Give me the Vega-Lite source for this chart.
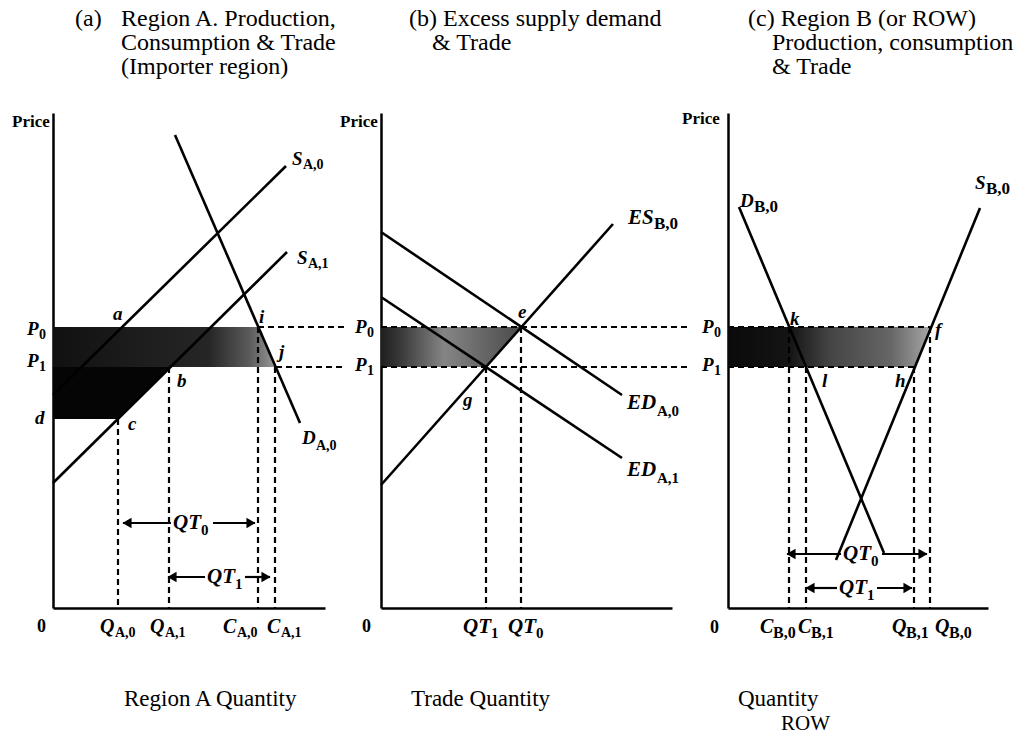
{
  "$schema": "https://vega.github.io/schema/vega-lite/v6.json",
  "autosize": {"type": "none"},
  "padding": {"left": 53, "top": 113, "right": 976, "bottom": 625},
  "background": "white",
  "spacing": 56,
  "bounds": "flush",
  "config": {
    "view": {"stroke": null},
    "axis": {"domainWidth": 2.5, "domainColor": "black", "ticks": false, "labels": false, "grid": false}
  },
  "datasets": {
    "seg": [
      {"panel": "a", "s": "solid", "q": 0, "p": 213, "q2": 233, "p2": 442},
      {"panel": "a", "s": "solid", "q": 0, "p": 125, "q2": 234, "p2": 356},
      {"panel": "a", "s": "solid", "q": 122, "p": 473, "q2": 247, "p2": 185},
      {"panel": "a", "s": "dash", "q": 205, "p": 281, "q2": 293, "p2": 281},
      {"panel": "a", "s": "dash", "q": 223, "p": 241, "q2": 293, "p2": 241},
      {"panel": "a", "s": "dash", "q": 65, "p": 189, "q2": 65, "p2": 0},
      {"panel": "a", "s": "dash", "q": 116, "p": 241, "q2": 116, "p2": 0},
      {"panel": "a", "s": "dash", "q": 205, "p": 281, "q2": 205, "p2": 0},
      {"panel": "a", "s": "dash", "q": 222, "p": 241, "q2": 222, "p2": 0},
      {"panel": "a", "s": "arr", "q": 70, "p": 85, "q2": 118, "p2": 85},
      {"panel": "a", "s": "arr", "q": 160, "p": 85, "q2": 202, "p2": 85},
      {"panel": "a", "s": "arr", "q": 115, "p": 31, "q2": 152, "p2": 31},
      {"panel": "a", "s": "arr", "q": 192, "p": 31, "q2": 217, "p2": 31},
      {"panel": "b", "s": "solid", "q": 0, "p": 123, "q2": 232, "p2": 384},
      {"panel": "b", "s": "solid", "q": 0, "p": 376, "q2": 241, "p2": 213},
      {"panel": "b", "s": "solid", "q": 0, "p": 311, "q2": 241, "p2": 150},
      {"panel": "b", "s": "dash", "q": 0, "p": 281, "q2": 306, "p2": 281},
      {"panel": "b", "s": "dash", "q": 0, "p": 241, "q2": 306, "p2": 241},
      {"panel": "b", "s": "dash", "q": 105, "p": 241, "q2": 105, "p2": 0},
      {"panel": "b", "s": "dash", "q": 140, "p": 281, "q2": 140, "p2": 0},
      {"panel": "c", "s": "solid", "q": 11, "p": 401, "q2": 156, "p2": 55},
      {"panel": "c", "s": "solid", "q": 252, "p": 400, "q2": 108, "p2": 48},
      {"panel": "c", "s": "dash", "q": 0, "p": 281, "q2": 203, "p2": 281},
      {"panel": "c", "s": "dash", "q": 0, "p": 241, "q2": 187, "p2": 241},
      {"panel": "c", "s": "dash", "q": 61, "p": 281, "q2": 61, "p2": 0},
      {"panel": "c", "s": "dash", "q": 78, "p": 241, "q2": 78, "p2": 0},
      {"panel": "c", "s": "dash", "q": 186, "p": 241, "q2": 186, "p2": 0},
      {"panel": "c", "s": "dash", "q": 202, "p": 281, "q2": 202, "p2": 0},
      {"panel": "c", "s": "arr", "q": 59, "p": 54, "q2": 113, "p2": 54},
      {"panel": "c", "s": "arr", "q": 154, "p": 54, "q2": 199, "p2": 54},
      {"panel": "c", "s": "arr", "q": 78, "p": 20, "q2": 109, "p2": 20},
      {"panel": "c", "s": "arr", "q": 149, "p": 20, "q2": 184, "p2": 20}
    ],
    "heads": [
      {"panel": "a", "q": 74, "p": 85, "sh": "triangle-left"},
      {"panel": "a", "q": 198, "p": 85, "sh": "triangle-right"},
      {"panel": "a", "q": 119, "p": 31, "sh": "triangle-left"},
      {"panel": "a", "q": 213, "p": 31, "sh": "triangle-right"},
      {"panel": "c", "q": 63, "p": 54, "sh": "triangle-left"},
      {"panel": "c", "q": 195, "p": 54, "sh": "triangle-right"},
      {"panel": "c", "q": 82, "p": 20, "sh": "triangle-left"},
      {"panel": "c", "q": 180, "p": 20, "sh": "triangle-right"}
    ],
    "band": [
      {"panel": "a", "b": "g", "p": 241, "lo": 0, "hi": 222.7},
      {"panel": "a", "b": "g", "p": 281, "lo": 0, "hi": 205.3},
      {"panel": "a", "b": "k", "p": 189, "lo": 0, "hi": 64.8},
      {"panel": "a", "b": "k", "p": 241, "lo": 0, "hi": 117.5},
      {"panel": "b", "b": "g", "p": 241, "lo": 0, "hi": 104.9},
      {"panel": "b", "b": "g", "p": 281, "lo": 0, "hi": 140.4},
      {"panel": "c", "b": "g", "p": 241, "lo": 0, "hi": 187},
      {"panel": "c", "b": "g", "p": 281, "lo": 0, "hi": 203.3}
    ],
    "txt": [
      {"panel": "a", "st": "ib", "t": "P", "q": -26, "p": 279, "sz": 19},
      {"panel": "a", "st": "ib", "t": "P", "q": -26, "p": 247, "sz": 19},
      {"panel": "a", "st": "ib", "t": "d", "q": -18, "p": 190, "sz": 19},
      {"panel": "a", "st": "ib", "t": "a", "q": 60, "p": 294, "sz": 19},
      {"panel": "a", "st": "ib", "t": "b", "q": 124, "p": 227, "sz": 19},
      {"panel": "a", "st": "ib", "t": "c", "q": 75, "p": 184, "sz": 19},
      {"panel": "a", "st": "ib", "t": "i", "q": 206, "p": 291, "sz": 19},
      {"panel": "a", "st": "ib", "t": "j", "q": 226, "p": 256, "sz": 19},
      {"panel": "a", "st": "ib", "t": "S", "q": 239, "p": 449, "sz": 19},
      {"panel": "a", "st": "ib", "t": "S", "q": 244, "p": 350, "sz": 19},
      {"panel": "a", "st": "ib", "t": "D", "q": 249, "p": 170, "sz": 19},
      {"panel": "a", "st": "ib", "t": "Q", "q": 47, "p": -19, "sz": 20},
      {"panel": "a", "st": "ib", "t": "Q", "q": 97, "p": -19, "sz": 20},
      {"panel": "a", "st": "ib", "t": "C", "q": 170, "p": -19, "sz": 20},
      {"panel": "a", "st": "ib", "t": "C", "q": 214, "p": -19, "sz": 20},
      {"panel": "a", "st": "ib", "t": "QT", "q": 120, "p": 85, "sz": 21},
      {"panel": "a", "st": "ib", "t": "QT", "q": 154, "p": 31, "sz": 21},
      {"panel": "a", "st": "b", "t": "0", "q": -14, "p": 273, "sz": 14},
      {"panel": "a", "st": "b", "t": "1", "q": -14, "p": 241, "sz": 14},
      {"panel": "a", "st": "b", "t": "A,0", "q": 250, "p": 443, "sz": 14},
      {"panel": "a", "st": "b", "t": "A,1", "q": 255, "p": 344, "sz": 14},
      {"panel": "a", "st": "b", "t": "A,0", "q": 263, "p": 162, "sz": 14},
      {"panel": "a", "st": "b", "t": "A,0", "q": 62, "p": -25, "sz": 14},
      {"panel": "a", "st": "b", "t": "A,1", "q": 112, "p": -25, "sz": 14},
      {"panel": "a", "st": "b", "t": "A,0", "q": 184, "p": -25, "sz": 14},
      {"panel": "a", "st": "b", "t": "A,1", "q": 228, "p": -25, "sz": 14},
      {"panel": "a", "st": "b", "t": "0", "q": 148, "p": 78, "sz": 15},
      {"panel": "a", "st": "b", "t": "1", "q": 182, "p": 24, "sz": 15},
      {"panel": "a", "st": "b", "t": "0", "q": -16, "p": -19, "sz": 18},
      {"panel": "a", "st": "b", "t": "Price", "q": -41, "p": 486, "sz": 17},
      {"panel": "a", "st": "rg", "t": "(a)", "q": 22, "p": 582, "sz": 24},
      {"panel": "a", "st": "rg", "t": "Region A. Production,", "q": 68, "p": 582, "sz": 24},
      {"panel": "a", "st": "rg", "t": "Consumption & Trade", "q": 68, "p": 558, "sz": 24},
      {"panel": "a", "st": "rg", "t": "(Importer region)", "q": 68, "p": 534, "sz": 24},
      {"panel": "a", "st": "rg", "t": "Region A Quantity", "q": 71, "p": -98, "sz": 23},
      {"panel": "b", "st": "ib", "t": "P", "q": -26, "p": 281, "sz": 19},
      {"panel": "b", "st": "ib", "t": "P", "q": -26, "p": 243, "sz": 19},
      {"panel": "b", "st": "ib", "t": "e", "q": 137, "p": 296, "sz": 19},
      {"panel": "b", "st": "ib", "t": "g", "q": 82, "p": 208, "sz": 19},
      {"panel": "b", "st": "ib", "t": "ES", "q": 247, "p": 390, "sz": 21},
      {"panel": "b", "st": "ib", "t": "ED", "q": 246, "p": 205, "sz": 21},
      {"panel": "b", "st": "ib", "t": "ED", "q": 246, "p": 138, "sz": 21},
      {"panel": "b", "st": "ib", "t": "QT", "q": 82, "p": -19, "sz": 21},
      {"panel": "b", "st": "ib", "t": "QT", "q": 127, "p": -19, "sz": 21},
      {"panel": "b", "st": "b", "t": "0", "q": -14, "p": 275, "sz": 14},
      {"panel": "b", "st": "b", "t": "1", "q": -14, "p": 237, "sz": 14},
      {"panel": "b", "st": "b", "t": "B,0", "q": 273, "p": 384, "sz": 17},
      {"panel": "b", "st": "b", "t": "A,0", "q": 276, "p": 197, "sz": 15},
      {"panel": "b", "st": "b", "t": "A,1", "q": 276, "p": 130, "sz": 15},
      {"panel": "b", "st": "b", "t": "1", "q": 110, "p": -25, "sz": 15},
      {"panel": "b", "st": "b", "t": "0", "q": 155, "p": -25, "sz": 15},
      {"panel": "b", "st": "b", "t": "0", "q": -19, "p": -19, "sz": 18},
      {"panel": "b", "st": "b", "t": "Price", "q": -41, "p": 486, "sz": 17},
      {"panel": "b", "st": "rg", "t": "(b) Excess supply demand", "q": 28, "p": 582, "sz": 24},
      {"panel": "b", "st": "rg", "t": "& Trade", "q": 51, "p": 558, "sz": 24},
      {"panel": "b", "st": "rg", "t": "Trade Quantity", "q": 30, "p": -98, "sz": 23},
      {"panel": "c", "st": "ib", "t": "P", "q": -26, "p": 281, "sz": 19},
      {"panel": "c", "st": "ib", "t": "P", "q": -26, "p": 243, "sz": 19},
      {"panel": "c", "st": "ib", "t": "D", "q": 12, "p": 407, "sz": 19},
      {"panel": "c", "st": "ib", "t": "S", "q": 247, "p": 425, "sz": 19},
      {"panel": "c", "st": "ib", "t": "k", "q": 62, "p": 289, "sz": 19},
      {"panel": "c", "st": "ib", "t": "f", "q": 207, "p": 278, "sz": 19},
      {"panel": "c", "st": "ib", "t": "l", "q": 94, "p": 227, "sz": 19},
      {"panel": "c", "st": "ib", "t": "h", "q": 167, "p": 227, "sz": 19},
      {"panel": "c", "st": "ib", "t": "C", "q": 32, "p": -19, "sz": 20},
      {"panel": "c", "st": "ib", "t": "C", "q": 70, "p": -19, "sz": 20},
      {"panel": "c", "st": "ib", "t": "Q", "q": 164, "p": -19, "sz": 20},
      {"panel": "c", "st": "ib", "t": "Q", "q": 207, "p": -19, "sz": 20},
      {"panel": "c", "st": "ib", "t": "QT", "q": 115, "p": 54, "sz": 21},
      {"panel": "c", "st": "ib", "t": "QT", "q": 111, "p": 20, "sz": 21},
      {"panel": "c", "st": "b", "t": "0", "q": -14, "p": 275, "sz": 14},
      {"panel": "c", "st": "b", "t": "1", "q": -14, "p": 237, "sz": 14},
      {"panel": "c", "st": "b", "t": "B,0", "q": 26, "p": 401, "sz": 17},
      {"panel": "c", "st": "b", "t": "B,0", "q": 258, "p": 419, "sz": 17},
      {"panel": "c", "st": "b", "t": "B,0", "q": 45, "p": -25, "sz": 16},
      {"panel": "c", "st": "b", "t": "B,1", "q": 83, "p": -25, "sz": 16},
      {"panel": "c", "st": "b", "t": "B,1", "q": 178, "p": -25, "sz": 16},
      {"panel": "c", "st": "b", "t": "B,0", "q": 221, "p": -25, "sz": 16},
      {"panel": "c", "st": "b", "t": "0", "q": 143, "p": 47, "sz": 15},
      {"panel": "c", "st": "b", "t": "1", "q": 139, "p": 13, "sz": 15},
      {"panel": "c", "st": "b", "t": "0", "q": -18, "p": -20, "sz": 18},
      {"panel": "c", "st": "b", "t": "Price", "q": -46, "p": 489, "sz": 17},
      {"panel": "c", "st": "rg", "t": "(c) Region B (or ROW)", "q": 20, "p": 582, "sz": 24},
      {"panel": "c", "st": "rg", "t": "Production, consumption", "q": 44, "p": 558, "sz": 24},
      {"panel": "c", "st": "rg", "t": "& Trade", "q": 44, "p": 534, "sz": 24},
      {"panel": "c", "st": "rg", "t": "Quantity", "q": 10, "p": -98, "sz": 23},
      {"panel": "c", "st": "rg", "t": "ROW", "q": 53, "p": -122, "sz": 21}
    ]
  },
  "hconcat": [
    {
      "width": 272, "height": 495,
      "layer": [
        {"data": {"name": "band"}, "transform": [{"filter": "datum.panel === 'a' && datum.b === 'g'"}],
         "mark": {"type": "area", "orient": "horizontal", "color": {"gradient": "linear", "x1": 0, "y1": 0, "x2": 1, "y2": 0, "stops": [{"offset": 0, "color": "#111111"}, {"offset": 0.7, "color": "#262626"}, {"offset": 0.88, "color": "#5a5a5a"}, {"offset": 1, "color": "#9a9a9a"}]}},
         "encoding": {"y": {"field": "p", "type": "quantitative", "scale": {"domain": [0, 495], "nice": false, "zero": false}, "title": null},
                      "x": {"field": "lo", "type": "quantitative", "scale": {"domain": [0, 272], "nice": false, "zero": false}, "title": null},
                      "x2": {"field": "hi"}}},
        {"data": {"name": "band"}, "transform": [{"filter": "datum.panel === 'a' && datum.b === 'k'"}],
         "mark": {"type": "area", "orient": "horizontal", "color": "#050505"},
         "encoding": {"y": {"field": "p", "type": "quantitative", "title": null},
                      "x": {"field": "lo", "type": "quantitative", "title": null},
                      "x2": {"field": "hi"}}},
        {"data": {"name": "seg"}, "transform": [{"filter": "datum.panel === 'a' && datum.s === 'solid'"}],
         "mark": {"type": "rule", "color": "black", "strokeWidth": 2.6},
         "encoding": {"x": {"field": "q", "type": "quantitative", "title": null}, "y": {"field": "p", "type": "quantitative", "title": null}, "x2": {"field": "q2"}, "y2": {"field": "p2"}}},
        {"data": {"name": "seg"}, "transform": [{"filter": "datum.panel === 'a' && datum.s === 'dash'"}],
         "mark": {"type": "rule", "color": "black", "strokeWidth": 2.2, "strokeDash": [6, 4]},
         "encoding": {"x": {"field": "q", "type": "quantitative", "title": null}, "y": {"field": "p", "type": "quantitative", "title": null}, "x2": {"field": "q2"}, "y2": {"field": "p2"}}},
        {"data": {"name": "seg"}, "transform": [{"filter": "datum.panel === 'a' && datum.s === 'arr'"}],
         "mark": {"type": "rule", "color": "black", "strokeWidth": 2.2},
         "encoding": {"x": {"field": "q", "type": "quantitative", "title": null}, "y": {"field": "p", "type": "quantitative", "title": null}, "x2": {"field": "q2"}, "y2": {"field": "p2"}}},
        {"data": {"name": "heads"}, "transform": [{"filter": "datum.panel === 'a'"}],
         "mark": {"type": "point", "filled": true, "color": "black", "opacity": 1, "size": 110},
         "encoding": {"x": {"field": "q", "type": "quantitative", "title": null}, "y": {"field": "p", "type": "quantitative", "title": null}, "shape": {"field": "sh", "type": "nominal", "scale": null}}},
        {"data": {"name": "txt"}, "transform": [{"filter": "datum.panel === 'a' && datum.st === 'ib'"}],
         "mark": {"type": "text", "font": "Liberation Serif", "fontStyle": "italic", "fontWeight": "bold", "align": "left", "baseline": "middle", "color": "black"},
         "encoding": {"x": {"field": "q", "type": "quantitative", "title": null}, "y": {"field": "p", "type": "quantitative", "title": null}, "text": {"field": "t"}, "size": {"field": "sz", "type": "quantitative", "scale": null}}},
        {"data": {"name": "txt"}, "transform": [{"filter": "datum.panel === 'a' && datum.st === 'b'"}],
         "mark": {"type": "text", "font": "Liberation Serif", "fontWeight": "bold", "align": "left", "baseline": "middle", "color": "black"},
         "encoding": {"x": {"field": "q", "type": "quantitative", "title": null}, "y": {"field": "p", "type": "quantitative", "title": null}, "text": {"field": "t"}, "size": {"field": "sz", "type": "quantitative", "scale": null}}},
        {"data": {"name": "txt"}, "transform": [{"filter": "datum.panel === 'a' && datum.st === 'rg'"}],
         "mark": {"type": "text", "font": "Liberation Serif", "align": "left", "baseline": "alphabetic", "color": "black"},
         "encoding": {"x": {"field": "q", "type": "quantitative", "title": null}, "y": {"field": "p", "type": "quantitative", "title": null}, "text": {"field": "t"}, "size": {"field": "sz", "type": "quantitative", "scale": null}}}
      ]
    },
    {
      "width": 291, "height": 495,
      "layer": [
        {"data": {"name": "band"}, "transform": [{"filter": "datum.panel === 'b'"}],
         "mark": {"type": "area", "orient": "horizontal", "color": {"gradient": "linear", "x1": 0, "y1": 0, "x2": 1, "y2": 0, "stops": [{"offset": 0, "color": "#1e1e1e"}, {"offset": 0.15, "color": "#3c3c3c"}, {"offset": 0.45, "color": "#858585"}, {"offset": 0.7, "color": "#6a6a6a"}, {"offset": 1, "color": "#4a4a4a"}]}},
         "encoding": {"y": {"field": "p", "type": "quantitative", "scale": {"domain": [0, 495], "nice": false, "zero": false}, "title": null},
                      "x": {"field": "lo", "type": "quantitative", "scale": {"domain": [0, 291], "nice": false, "zero": false}, "title": null},
                      "x2": {"field": "hi"}}},
        {"data": {"name": "seg"}, "transform": [{"filter": "datum.panel === 'b' && datum.s === 'solid'"}],
         "mark": {"type": "rule", "color": "black", "strokeWidth": 2.6},
         "encoding": {"x": {"field": "q", "type": "quantitative", "title": null}, "y": {"field": "p", "type": "quantitative", "title": null}, "x2": {"field": "q2"}, "y2": {"field": "p2"}}},
        {"data": {"name": "seg"}, "transform": [{"filter": "datum.panel === 'b' && datum.s === 'dash'"}],
         "mark": {"type": "rule", "color": "black", "strokeWidth": 2.2, "strokeDash": [6, 4]},
         "encoding": {"x": {"field": "q", "type": "quantitative", "title": null}, "y": {"field": "p", "type": "quantitative", "title": null}, "x2": {"field": "q2"}, "y2": {"field": "p2"}}},
        {"data": {"name": "txt"}, "transform": [{"filter": "datum.panel === 'b' && datum.st === 'ib'"}],
         "mark": {"type": "text", "font": "Liberation Serif", "fontStyle": "italic", "fontWeight": "bold", "align": "left", "baseline": "middle", "color": "black"},
         "encoding": {"x": {"field": "q", "type": "quantitative", "title": null}, "y": {"field": "p", "type": "quantitative", "title": null}, "text": {"field": "t"}, "size": {"field": "sz", "type": "quantitative", "scale": null}}},
        {"data": {"name": "txt"}, "transform": [{"filter": "datum.panel === 'b' && datum.st === 'b'"}],
         "mark": {"type": "text", "font": "Liberation Serif", "fontWeight": "bold", "align": "left", "baseline": "middle", "color": "black"},
         "encoding": {"x": {"field": "q", "type": "quantitative", "title": null}, "y": {"field": "p", "type": "quantitative", "title": null}, "text": {"field": "t"}, "size": {"field": "sz", "type": "quantitative", "scale": null}}},
        {"data": {"name": "txt"}, "transform": [{"filter": "datum.panel === 'b' && datum.st === 'rg'"}],
         "mark": {"type": "text", "font": "Liberation Serif", "align": "left", "baseline": "alphabetic", "color": "black"},
         "encoding": {"x": {"field": "q", "type": "quantitative", "title": null}, "y": {"field": "p", "type": "quantitative", "title": null}, "text": {"field": "t"}, "size": {"field": "sz", "type": "quantitative", "scale": null}}}
      ]
    },
    {
      "width": 260, "height": 495,
      "layer": [
        {"data": {"name": "band"}, "transform": [{"filter": "datum.panel === 'c'"}],
         "mark": {"type": "area", "orient": "horizontal", "color": {"gradient": "linear", "x1": 0, "y1": 0, "x2": 1, "y2": 0, "stops": [{"offset": 0, "color": "#0a0a0a"}, {"offset": 0.3, "color": "#141414"}, {"offset": 0.5, "color": "#444444"}, {"offset": 0.8, "color": "#666666"}, {"offset": 1, "color": "#a8a8a8"}]}},
         "encoding": {"y": {"field": "p", "type": "quantitative", "scale": {"domain": [0, 495], "nice": false, "zero": false}, "title": null},
                      "x": {"field": "lo", "type": "quantitative", "scale": {"domain": [0, 260], "nice": false, "zero": false}, "title": null},
                      "x2": {"field": "hi"}}},
        {"data": {"name": "seg"}, "transform": [{"filter": "datum.panel === 'c' && datum.s === 'solid'"}],
         "mark": {"type": "rule", "color": "black", "strokeWidth": 2.6},
         "encoding": {"x": {"field": "q", "type": "quantitative", "title": null}, "y": {"field": "p", "type": "quantitative", "title": null}, "x2": {"field": "q2"}, "y2": {"field": "p2"}}},
        {"data": {"name": "seg"}, "transform": [{"filter": "datum.panel === 'c' && datum.s === 'dash'"}],
         "mark": {"type": "rule", "color": "black", "strokeWidth": 2.2, "strokeDash": [6, 4]},
         "encoding": {"x": {"field": "q", "type": "quantitative", "title": null}, "y": {"field": "p", "type": "quantitative", "title": null}, "x2": {"field": "q2"}, "y2": {"field": "p2"}}},
        {"data": {"name": "seg"}, "transform": [{"filter": "datum.panel === 'c' && datum.s === 'arr'"}],
         "mark": {"type": "rule", "color": "black", "strokeWidth": 2.2},
         "encoding": {"x": {"field": "q", "type": "quantitative", "title": null}, "y": {"field": "p", "type": "quantitative", "title": null}, "x2": {"field": "q2"}, "y2": {"field": "p2"}}},
        {"data": {"name": "heads"}, "transform": [{"filter": "datum.panel === 'c'"}],
         "mark": {"type": "point", "filled": true, "color": "black", "opacity": 1, "size": 110},
         "encoding": {"x": {"field": "q", "type": "quantitative", "title": null}, "y": {"field": "p", "type": "quantitative", "title": null}, "shape": {"field": "sh", "type": "nominal", "scale": null}}},
        {"data": {"name": "txt"}, "transform": [{"filter": "datum.panel === 'c' && datum.st === 'ib'"}],
         "mark": {"type": "text", "font": "Liberation Serif", "fontStyle": "italic", "fontWeight": "bold", "align": "left", "baseline": "middle", "color": "black"},
         "encoding": {"x": {"field": "q", "type": "quantitative", "title": null}, "y": {"field": "p", "type": "quantitative", "title": null}, "text": {"field": "t"}, "size": {"field": "sz", "type": "quantitative", "scale": null}}},
        {"data": {"name": "txt"}, "transform": [{"filter": "datum.panel === 'c' && datum.st === 'b'"}],
         "mark": {"type": "text", "font": "Liberation Serif", "fontWeight": "bold", "align": "left", "baseline": "middle", "color": "black"},
         "encoding": {"x": {"field": "q", "type": "quantitative", "title": null}, "y": {"field": "p", "type": "quantitative", "title": null}, "text": {"field": "t"}, "size": {"field": "sz", "type": "quantitative", "scale": null}}},
        {"data": {"name": "txt"}, "transform": [{"filter": "datum.panel === 'c' && datum.st === 'rg'"}],
         "mark": {"type": "text", "font": "Liberation Serif", "align": "left", "baseline": "alphabetic", "color": "black"},
         "encoding": {"x": {"field": "q", "type": "quantitative", "title": null}, "y": {"field": "p", "type": "quantitative", "title": null}, "text": {"field": "t"}, "size": {"field": "sz", "type": "quantitative", "scale": null}}}
      ]
    }
  ]
}
